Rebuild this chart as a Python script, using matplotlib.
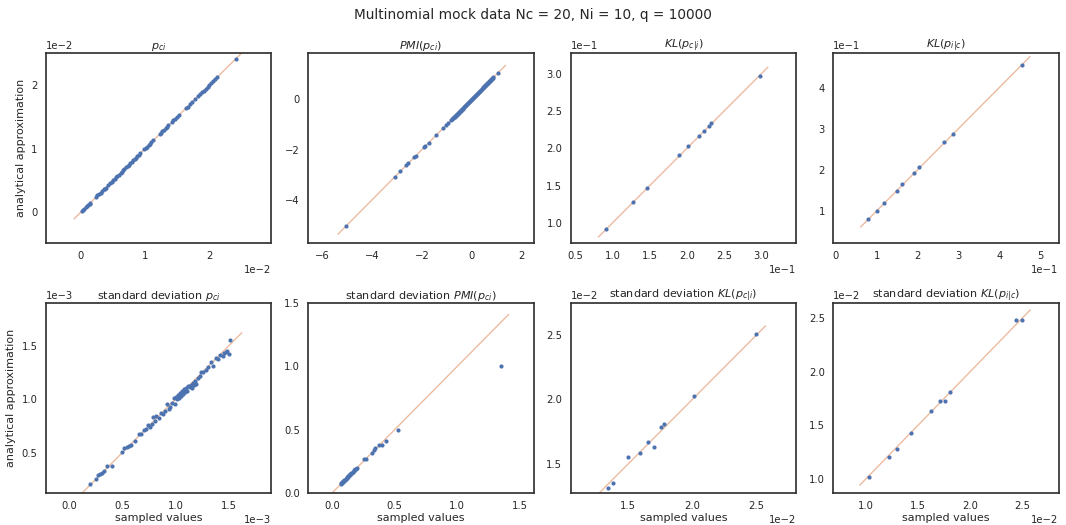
#!/usr/bin/env python3
# -*- coding: utf-8 -*-
"""
Sampled values vs analytical approximation for the multinomial mock data
"""

""" IMPORTS """

import numpy as np
import matplotlib
matplotlib.use("Agg")
import matplotlib.pyplot as plt
from matplotlib.ticker import MultipleLocator


""" DATA """

# p_ci (units of 1e-2)
p_ci_sampled = [0.02, 0.04, 0.06, 0.08, 0.10, 0.12, 0.14, 0.15,
                0.24, 0.26, 0.29, 0.31, 0.33, 0.36, 0.38, 0.39,
                0.43, 0.46, 0.48, 0.50, 0.53, 0.55, 0.57, 0.59, 0.62, 0.64, 0.66, 0.68,
                0.70, 0.73, 0.75, 0.77, 0.79, 0.81, 0.84, 0.86, 0.88, 0.90, 0.92,
                0.99, 1.01, 1.03, 1.06, 1.08, 1.10, 1.13,
                1.23, 1.25, 1.27, 1.30, 1.32, 1.34, 1.36,
                1.42, 1.44, 1.47, 1.49, 1.52,
                1.63, 1.66, 1.70, 1.73,
                1.78, 1.82, 1.86,
                1.88, 1.91, 1.94, 1.97, 2.00, 2.03, 2.06, 2.09, 2.12,
                2.41]
p_ci_analytical = [0.02, 0.04, 0.06, 0.08, 0.10, 0.12, 0.13, 0.15,
                   0.24, 0.27, 0.29, 0.31, 0.33, 0.36, 0.37, 0.39,
                   0.43, 0.46, 0.48, 0.51, 0.53, 0.55, 0.57, 0.59, 0.62, 0.64, 0.66, 0.68,
                   0.71, 0.73, 0.75, 0.77, 0.79, 0.82, 0.84, 0.86, 0.88, 0.90, 0.93,
                   0.99, 1.01, 1.03, 1.06, 1.08, 1.11, 1.13,
                   1.23, 1.25, 1.28, 1.30, 1.32, 1.34, 1.37,
                   1.42, 1.45, 1.47, 1.49, 1.52,
                   1.63, 1.66, 1.70, 1.73,
                   1.78, 1.82, 1.86,
                   1.89, 1.91, 1.94, 1.97, 2.00, 2.03, 2.06, 2.09, 2.13,
                   2.41]

# PMI(p_ci)
pmi_sampled = [-5.05, -3.08, -2.86, -2.64, -2.55, -2.32, -2.24, -1.90, -1.86, -1.73,
               -1.44, -1.16, -1.02, -0.97,
               -0.82, -0.79, -0.77, -0.74, -0.72, -0.69, -0.66, -0.64, -0.61, -0.58,
               -0.56, -0.53, -0.50, -0.48, -0.45, -0.42, -0.40, -0.37, -0.34, -0.31,
               -0.29, -0.26, -0.23, -0.21, -0.18, -0.15, -0.12, -0.10, -0.07, -0.04,
               -0.02, 0.01, 0.04, 0.06, 0.09, 0.12, 0.14, 0.17, 0.20, 0.22,
               0.25, 0.28, 0.30, 0.33, 0.36, 0.38, 0.41, 0.44, 0.46, 0.49,
               0.52, 0.54, 0.57, 0.60, 0.62, 0.65, 0.68, 0.70, 0.73, 0.76,
               0.78, 0.81, 0.84, 0.86, 1.04]
pmi_analytical = [-5.04, -3.07, -2.85, -2.63, -2.54, -2.31, -2.24, -1.89, -1.85, -1.72,
                  -1.43, -1.15, -1.01, -0.96,
                  -0.81, -0.79, -0.76, -0.74, -0.71, -0.69, -0.66, -0.63, -0.61, -0.58,
                  -0.55, -0.53, -0.50, -0.47, -0.45, -0.42, -0.39, -0.37, -0.34, -0.31,
                  -0.28, -0.26, -0.23, -0.20, -0.18, -0.15, -0.12, -0.09, -0.07, -0.04,
                  -0.01, 0.01, 0.04, 0.07, 0.09, 0.12, 0.15, 0.17, 0.20, 0.23,
                  0.25, 0.28, 0.31, 0.33, 0.36, 0.39, 0.41, 0.44, 0.47, 0.49,
                  0.52, 0.55, 0.57, 0.60, 0.63, 0.65, 0.68, 0.71, 0.73, 0.76,
                  0.79, 0.81, 0.84, 0.87, 1.04]

# KL(p_c|i) (units of 1e-1)
kl_ci_sampled = [0.918, 1.280, 1.458, 1.895, 2.010, 2.160, 2.225, 2.292, 2.322, 2.985]
kl_ci_analytical = [0.915, 1.284, 1.466, 1.905, 2.030, 2.172, 2.232, 2.298, 2.336, 2.972]

# KL(p_i|c) (units of 1e-1)
kl_ic_sampled = [0.80, 1.00, 1.18, 1.49, 1.63, 1.91, 2.03, 2.65, 2.87, 4.55]
kl_ic_analytical = [0.81, 1.01, 1.20, 1.49, 1.65, 1.93, 2.06, 2.68, 2.87, 4.56]

# standard deviation p_ci (units of 1e-3)
std_p_ci_sampled = [0.20, 0.25, 0.27, 0.29, 0.31, 0.33, 0.36, 0.40,
                    0.50, 0.52, 0.54, 0.56, 0.58, 0.62,
                    0.66, 0.68, 0.70, 0.72, 0.74, 0.76, 0.78, 0.79, 0.81, 0.82, 0.84,
                    0.86, 0.88, 0.90, 0.92, 0.94, 0.95, 0.97, 0.98, 0.99, 1.00, 1.01,
                    1.02, 1.03, 1.04, 1.05, 1.06, 1.07, 1.08, 1.09, 1.10, 1.11, 1.12,
                    1.13, 1.14, 1.15, 1.16, 1.17, 1.18, 1.19,
                    1.21, 1.23, 1.24, 1.26, 1.28, 1.30, 1.33, 1.35,
                    1.38, 1.40, 1.42, 1.44, 1.45, 1.47, 1.48, 1.50, 1.51]
std_p_ci_analytical = [0.21, 0.25, 0.29, 0.30, 0.31, 0.33, 0.38, 0.38,
                       0.51, 0.54, 0.55, 0.56, 0.57, 0.61,
                       0.67, 0.67, 0.71, 0.72, 0.76, 0.74, 0.77, 0.83, 0.80, 0.84, 0.82,
                       0.87, 0.86, 0.89, 0.95, 0.91, 0.93, 0.96, 1.01, 0.95, 1.02, 1.00,
                       1.04, 1.01, 1.06, 1.03, 1.08, 1.05, 1.09, 1.07, 1.10, 1.08, 1.12,
                       1.11, 1.13, 1.10, 1.15, 1.13, 1.17, 1.14,
                       1.20, 1.22, 1.25, 1.25, 1.27, 1.30, 1.35, 1.31,
                       1.38, 1.37, 1.41, 1.40, 1.43, 1.44, 1.45, 1.42, 1.55]

# standard deviation PMI(p_ci)
std_pmi_sampled = [0.069, 0.074, 0.078, 0.083, 0.086, 0.091, 0.095, 0.099, 0.104, 0.108,
                   0.113, 0.117, 0.122, 0.127, 0.131, 0.136, 0.142, 0.147, 0.153, 0.159,
                   0.165, 0.172, 0.178, 0.185, 0.191, 0.197,
                   0.255, 0.271, 0.316, 0.337, 0.345, 0.377, 0.396, 0.432, 0.523, 1.345]
std_pmi_analytical = [0.071, 0.075, 0.080, 0.084, 0.088, 0.092, 0.097, 0.101, 0.105, 0.110,
                      0.114, 0.119, 0.124, 0.128, 0.133, 0.138, 0.143, 0.149, 0.155, 0.161,
                      0.167, 0.173, 0.180, 0.186, 0.193, 0.199,
                      0.268, 0.266, 0.316, 0.337, 0.355, 0.380, 0.380, 0.410, 0.500, 1.000]

# standard deviation KL(p_c|i) (units of 1e-2)
std_kl_ci_sampled = [1.345, 1.379, 1.497, 1.595, 1.650, 1.703, 1.758, 1.778, 2.014, 2.500]
std_kl_ci_analytical = [1.309, 1.353, 1.550, 1.583, 1.667, 1.634, 1.783, 1.811, 2.025, 2.510]

# standard deviation KL(p_i|c) (units of 1e-2)
std_kl_ic_sampled = [1.029, 1.226, 1.303, 1.431, 1.625, 1.715, 1.763, 1.805, 2.446, 2.503]
std_kl_ic_analytical = [1.019, 1.206, 1.283, 1.426, 1.635, 1.727, 1.732, 1.817, 2.481, 2.482]

titles = [r"$p_{ci}$", r"$PMI(p_{ci})$", r"$KL(p_{c|i})$", r"$KL(p_{i|c})$",
          r"standard deviation $p_{ci}$", r"standard deviation $PMI(p_{ci})$",
          r"standard deviation $KL(p_{c|i})$", r"standard deviation $KL(p_{i|c})$"]


""" HELPER FUNCTIONS """

def draw_panel(ax, sampled, analytical, title, xlim, ylim, step):
    """
    Scatter analytical vs sampled values with the identity line behind.

    inputs:
        - ax: axes to draw in (matplotlib Axes)
        - sampled, analytical: values (np.array)
        - title: panel title (str)
        - xlim, ylim: axis limits (tuple)
        - step: tick spacing (float)
    """
    # identity line with 5% margin around the data
    lo = min(sampled.min(), analytical.min())
    hi = max(sampled.max(), analytical.max())
    pad = 0.05 * (hi - lo)
    ax.plot([lo - pad, hi + pad], [lo - pad, hi + pad], color="#DD8452", alpha=0.55, lw=1, zorder=1)
    ax.scatter(sampled, analytical, s=9, color="#4C72B0", linewidths=0, zorder=2)

    ax.set_xlim(xlim)
    ax.set_ylim(ylim)
    ax.xaxis.set_major_locator(MultipleLocator(step))
    ax.yaxis.set_major_locator(MultipleLocator(step))
    ax.ticklabel_format(style="sci", scilimits=(0, 0), axis="both")
    ax.set_title(title, fontsize=8, pad=3)
    for s in ax.spines.values():
        s.set_color(".2")
        s.set_linewidth(1.25)


""" PLOT """

plt.rcParams.update({
    "font.family": "DejaVu Sans",
    "font.size": 7,
    "text.color": ".15",
    "axes.labelcolor": ".15",
    "xtick.color": ".15",
    "ytick.color": ".15",
    "xtick.major.size": 0,
    "ytick.major.size": 0,
    "xtick.major.pad": 6,
    "ytick.major.pad": 6,
    "xtick.labelsize": 7.2,
    "ytick.labelsize": 7.2,
})

panels = [
    (np.array(p_ci_sampled) * 1e-2, np.array(p_ci_analytical) * 1e-2),
    (np.array(pmi_sampled), np.array(pmi_analytical)),
    (np.array(kl_ci_sampled) * 1e-1, np.array(kl_ci_analytical) * 1e-1),
    (np.array(kl_ic_sampled) * 1e-1, np.array(kl_ic_analytical) * 1e-1),
    (np.array(std_p_ci_sampled) * 1e-3, np.array(std_p_ci_analytical) * 1e-3),
    (np.array(std_pmi_sampled), np.array(std_pmi_analytical)),
    (np.array(std_kl_ci_sampled) * 1e-2, np.array(std_kl_ci_analytical) * 1e-2),
    (np.array(std_kl_ic_sampled) * 1e-2, np.array(std_kl_ic_analytical) * 1e-2),
]
xlims = [(-0.0054, 0.0296), (-6.55, 2.48), (0.0437, 0.347), (-0.0066, 0.545),
         (-0.000216, 0.001896), (-0.19, 1.61), (0.0105, 0.0281), (0.00687, 0.0285)]
ylims = [(-0.0048, 0.0250), (-5.71, 1.84), (0.073, 0.328), (0.022, 0.484),
         (0.000124, 0.001897), (0.0, 1.5), (0.01273, 0.02749), (0.0087, 0.02643)]
steps = [0.01, 2, 0.05, 0.1, 0.0005, 0.5, 0.005, 0.005]

fig, axes = plt.subplots(2, 4, figsize=(10.66, 5.25), dpi=100)
fig.subplots_adjust(left=0.043, right=0.993, top=0.899, bottom=0.061, wspace=0.164, hspace=0.316)

for k, ax in enumerate(axes.flat):
    sampled, analytical = panels[k]
    draw_panel(ax, sampled, analytical, titles[k], xlims[k], ylims[k], steps[k])

for ax in axes[:, 0]:
    ax.set_ylabel("analytical approximation", fontsize=8)
for ax in axes[1, :]:
    ax.set_xlabel("sampled values", fontsize=8, labelpad=1)

fig.suptitle("Multinomial mock data Nc = 20, Ni = 10, q = 10000", fontsize=9.8, y=0.985)

fig.savefig("out.png", dpi=100)
